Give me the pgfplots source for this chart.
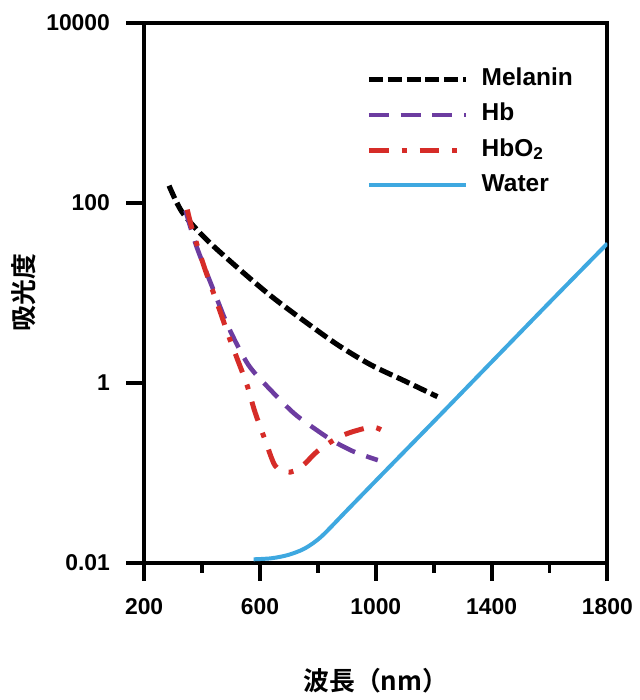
\documentclass[border=0pt]{standalone}
\usepackage{fontspec}
\setmainfont{Liberation Sans}
\newfontfamily\cjk{Noto Sans CJK JP}[BoldFont={* Bold}]
\usepackage{pgfplots}
\pgfplotsset{compat=1.18}

\definecolor{hbpurple}{RGB}{108,60,160}
\definecolor{hbored}{RGB}{214,44,40}
\definecolor{waterblue}{RGB}{62,168,224}

\begin{document}
\begin{tikzpicture}
\begin{axis}[
  name=ax,
  scale only axis,
  width=233pt, height=271.5pt,
  ymode=log,
  xmin=200, xmax=1800,
  ymin=0.01, ymax=10000,
  xtick={200,600,1000,1400,1800},
  xticklabels={200,600,1000,1400,1800},
  minor xtick={400,800,1200,1600},
  ytick={0.01,1,100,10000},
  yticklabels={0.01,1,100,10000},
  yminorticks=false,
  tick align=outside,
  xtick pos=left, ytick pos=left,
  major tick length=9pt,
  minor tick length=5pt,
  tick style={black, line width=2pt},
  axis line style={line width=2pt},
  tick label style={font=\bfseries\fontsize{11.5}{13}\selectfont},
  xticklabel style={yshift=-5.7pt},
  yticklabel style={xshift=-4.7pt},
  xlabel={\cjk\bfseries 波長（nm）},
  ylabel={\cjk\bfseries 吸光度},
  xlabel style={at={([yshift=-59.5pt]rel axis cs:0.5,0)}, anchor=center, font=\fontsize{13}{15}\selectfont},
  ylabel style={at={([xshift=-60.5pt]rel axis cs:0,0.5)}, anchor=center, font=\fontsize{13}{15}\selectfont},
  legend image code/.code={\draw[#1] (0pt,0pt) -- (49pt,0pt); \path (52pt,0pt);},
  legend style={draw=none, fill=none, at={(rel axis cs:0,1)}, anchor=north west,
    xshift=111.5pt, yshift=-22.3pt, inner sep=0pt, row sep=5.75pt,
    nodes={inner xsep=3.5pt, inner ysep=0pt, text height=9pt, text depth=3pt,
      font=\bfseries\fontsize{12.3}{14}\selectfont}},
  legend cell align=left,
]
% Melanin
\addplot[black, line width=2.6pt, dash pattern=on 7pt off 2.5pt, smooth] coordinates {
  (286,155) (331,79) (412,40) (526,18.6) (640,9.1) (755,4.8)
  (869,2.63) (983,1.58) (1099,1.05) (1213,0.70)
};
\addlegendentry{Melanin}
% Hb
\addplot[hbpurple, line width=2.3pt, dash pattern=on 10pt off 6pt, smooth] coordinates {
  (343,82) (382,32) (446,9.5) (492,4.1) (560,1.58) (640,0.81)
  (720,0.45) (801,0.29) (858,0.22) (927,0.17) (1007,0.138)
};
\addlegendentry{Hb}
% HbO2
\addplot[hbored, line width=2.5pt, dash pattern=on 10pt off 6.5pt on 2.5pt off 6.5pt, smooth] coordinates {
  (349,84) (366,51) (406,20) (452,7.7) (492,3.3) (520,1.9) (555,0.95)
  (583,0.47) (618,0.23) (652,0.12) (690,0.102) (721,0.105) (755,0.126)
  (801,0.176) (869,0.245) (927,0.29) (995,0.32) (1052,0.26)
};
\addlegendentry{HbO\textsubscript{2}}
% Water
\addplot[waterblue, line width=2pt, smooth] coordinates {
  (578,0.0109) (640,0.0112) (698,0.0122) (755,0.0144) (812,0.0195)
  (900,0.038) (1000,0.0813) (1200,0.37) (1400,1.70) (1600,7.8) (1800,35.3)
};
\addlegendentry{Water}
\end{axis}
\path (ax.south west) ++(-72.5pt,-67pt) (ax.north east) ++(15.5pt,11.5pt);
\end{tikzpicture}
\end{document}
